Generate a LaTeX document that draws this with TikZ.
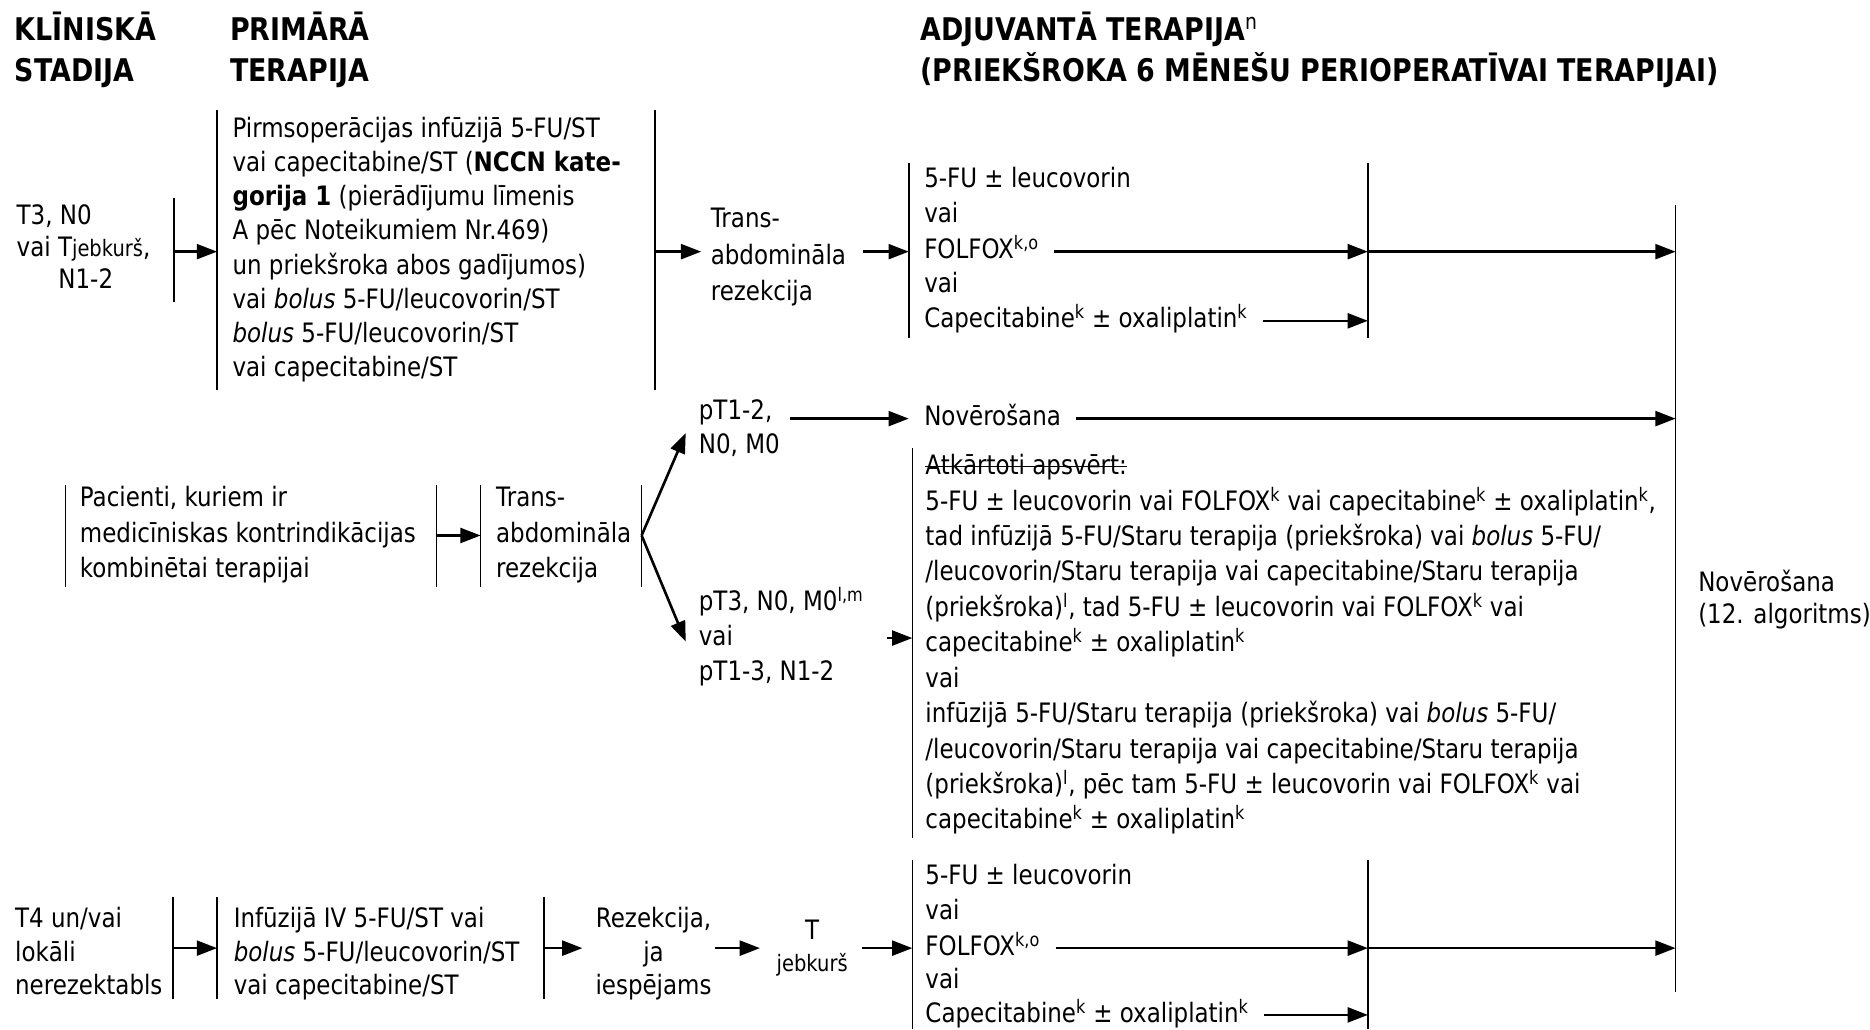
\documentclass[tikz,border=0pt]{standalone}
\usepackage{fontspec}
\setmainfont{DejaVu Sans}[FakeStretch=0.86]
\usetikzlibrary{arrows.meta}

\newcommand{\bodyfont}{\fontsize{22.4}{27}\selectfont}
\newcommand{\mlt}[2]{{\fontsize{22.4}{#1}\selectfont\begin{tabular}[t]{@{}l@{}}#2\end{tabular}}}
\newcommand{\mlc}[2]{{\fontsize{22.4}{#1}\selectfont\begin{tabular}[t]{@{}c@{}}#2\end{tabular}}}
\newcommand{\hd}[1]{{\fontsize{26.2}{34}\selectfont\bfseries\begin{tabular}[t]{@{}l@{}}#1\end{tabular}}}
\newcommand{\smjb}{{\fontsize{19}{19}\selectfont jebkurš}}

\begin{document}
\begin{tikzpicture}[x=1pt,y=-1pt,
  txt/.style={inner sep=0pt, outer sep=0pt, anchor=base west, font=\bodyfont},
  vbar/.style={minimum width=0pt, inner sep=0pt, outer sep=0pt, shape=rectangle},
  barline/.style={line width=1.3pt},
  arr/.style={line width=2.2pt, -{Triangle[length=17pt,width=12.5pt]}}]
\fill[white] (0,0) rectangle (1568,863);
\useasboundingbox (0,0) rectangle (1568,863);

% ---------- headers ----------
\node[txt] (h1) at (12.5,34) {\hd{KLĪNISKĀ\\STADIJA}};
\node[txt] (h2) at (193,34) {\hd{PRIMĀRĀ\\TERAPIJA}};
\node[txt] (h3) at (772,34) {\hd{ADJUVANTĀ TERAPIJA\textsuperscript{\mdseries n}\\(PRIEKŠROKA 6 MĒNEŠU PERIOPERATĪVAI TERAPIJAI)}};

% ---------- vertical bars ----------
\node[vbar, minimum height=87pt]  (b1) at (146,209.5) {};
\node[vbar, minimum height=235pt] (b2) at (182,209.5) {};
\node[vbar, minimum height=235pt] (b3) at (549,209.5) {};
\node[vbar, minimum height=146pt] (a1) at (762,210) {};
\node[vbar, minimum height=146pt] (e1) at (1147,210) {};
\node[vbar, minimum height=660pt] (R)  at (1405,502) {};
\node[vbar, minimum height=85pt]  (m1) at (55,449.5) {};
\node[vbar, minimum height=85pt]  (m2) at (366,449.5) {};
\node[vbar, minimum height=85pt]  (m3) at (403,449.5) {};
\node[vbar, minimum height=85pt]  (m4) at (538,449.5) {};
\node[vbar, minimum height=327pt] (bb) at (765,539.5) {};
\node[vbar, minimum height=86pt]  (c1) at (145,795) {};
\node[vbar, minimum height=86pt]  (c2) at (182,795) {};
\node[vbar, minimum height=86pt]  (c3) at (456,795) {};
\node[vbar, minimum height=142pt] (c4) at (765,792) {};
\node[vbar, minimum height=142pt] (c5) at (1147,792) {};
\foreach \n in {b1,b2,b3,a1,e1,R,m1,m2,m3,m4,bb,c1,c2,c3,c4,c5}
  \draw[barline] (\n.north) -- (\n.south);

% ---------- row 1 ----------
\node[txt] (s1) at (14,188) {\mlt{27}{T3, N0\\vai T\smjb,\\\hspace*{35pt}N1-2}};
\node[txt] (p1) at (195,115) {\mlt{28.7}{Pirmsoperācijas infūzijā 5-FU/ST\\vai capecitabine/ST (\textbf{NCCN kate-}\\\textbf{gorija 1} (pierādījumu līmenis\\A pēc Noteikumiem Nr.469)\\un priekšroka abos gadījumos)\\vai \textit{bolus} 5-FU/leucovorin/ST\\\textit{bolus} 5-FU/leucovorin/ST\\vai capecitabine/ST}};
\node[txt] (tr1) at (596,191) {\mlt{30.5}{Trans-\\abdomināla\\rezekcija}};
\node[txt] (a1l1) at (775,157) {5-FU ± leucovorin};
\node[txt] (a1l2) at (775,186.5) {vai};
\node[txt] (fx1) at (775,217) {FOLFOX\textsuperscript{k,o}};
\node[txt] (a1l4) at (775,245.5) {vai};
\node[txt] (cp1) at (775,275) {Capecitabine\textsuperscript{k} ± oxaliplatin\textsuperscript{k}};
\node[txt] (nov) at (1424,496) {\mlt{27}{Novērošana\\(12. algoritms)}};

\coordinate (y1) at (0,211);
\coordinate (y1c) at (0,269);
\draw[arr] (b1 |- y1) -- (b2 |- y1);
\draw[arr] (b3 |- y1) -- ([xshift=-8pt]tr1.west |- y1);
\draw[arr] ([xshift=14pt]tr1.east |- y1) -- (a1 |- y1);
\draw[arr] ([xshift=13pt]fx1.east |- y1) -- (e1 |- y1);
\draw[arr] ([xshift=13pt]cp1.east |- y1c) -- (e1 |- y1c);
\draw[arr] (e1 |- y1) -- (R |- y1);

% ---------- row 2 ----------
\node[txt] (n12) at (586,352) {\mlt{28}{pT1-2,\\N0, M0}};
\node[txt] (nov2) at (775,357) {Novērošana};
\node[txt] (pac) at (67,425) {\mlt{29.5}{Pacienti, kuriem ir\\medicīniskas kontrindikācijas\\kombinētai terapijai}};
\node[txt] (tr2) at (416,425) {\mlt{29.5}{Trans-\\abdomināla\\rezekcija}};
\node[txt] (n3) at (586,512) {\mlt{29.5}{pT3, N0, M0\textsuperscript{l,m}\\vai\\pT1-3, N1-2}};
\node[txt] (atk) at (776,398) {Atkārtoti apsvērt:};
\coordinate (ys) at (0,391.5);
\draw[line width=0.9pt] (atk.west |- ys) -- (atk.east |- ys);
\node[txt] (big) at (776,427.7) {\mlt{29.7}{5-FU ± leucovorin vai FOLFOX\textsuperscript{k} vai capecitabine\textsuperscript{k} ± oxaliplatin\textsuperscript{k},\\tad infūzijā 5-FU/Staru terapija (priekšroka) vai \textit{bolus} 5-FU/\\/leucovorin/Staru terapija vai capecitabine/Staru terapija\\(priekšroka)\textsuperscript{l}, tad 5-FU ± leucovorin vai FOLFOX\textsuperscript{k} vai\\capecitabine\textsuperscript{k} ± oxaliplatin\textsuperscript{k}\\vai\\infūzijā 5-FU/Staru terapija (priekšroka) vai \textit{bolus} 5-FU/\\/leucovorin/Staru terapija vai capecitabine/Staru terapija\\(priekšroka)\textsuperscript{l}, pēc tam 5-FU ± leucovorin vai FOLFOX\textsuperscript{k} vai\\capecitabine\textsuperscript{k} ± oxaliplatin\textsuperscript{k}}};

\coordinate (y2n) at (0,351);
\coordinate (y2m) at (0,449);
\coordinate (y2p) at (0,535);
\coordinate (d1) at (575,363);
\coordinate (d2) at (575,538);
\draw[arr] ([xshift=9pt]n12.east |- y2n) -- ([xshift=-13pt]nov2.west |- y2n);
\draw[arr] ([xshift=13pt]nov2.east |- y2n) -- (R |- y2n);
\draw[arr] (m2 |- y2m) -- (m3 |- y2m);
\draw[arr] (m4 |- y2m) -- (d1);
\draw[arr] (m4 |- y2m) -- (d2);
\draw[arr] ([xshift=20pt]n3.east |- y2p) -- (bb |- y2p);

% ---------- row 3 ----------
\node[txt] (t4) at (12.7,778) {\mlt{28}{T4 un/vai\\lokāli\\nerezektabls}};
\node[txt] (inf) at (196,778) {\mlt{28}{Infūzijā IV 5-FU/ST vai\\\textit{bolus} 5-FU/leucovorin/ST\\vai capecitabine/ST}};
\node[txt, anchor=base] (rez) at (548,778) {\mlc{28}{Rezekcija,\\ja\\iespējams}};
\node[txt, anchor=base] (tj) at (681,788) {\mlc{27}{T\\\smjb}};
\node[txt] (a3l1) at (776,742) {5-FU ± leucovorin};
\node[txt] (a3l2) at (776,771) {vai};
\node[txt] (fx3) at (776,801) {FOLFOX\textsuperscript{k,o}};
\node[txt] (a3l4) at (776,829) {vai};
\node[txt] (cp3) at (776,857) {Capecitabine\textsuperscript{k} ± oxaliplatin\textsuperscript{k}};

\coordinate (y3) at (0,795);
\coordinate (y3c) at (0,851);
\draw[arr] (c1 |- y3) -- (c2 |- y3);
\draw[arr] (c3 |- y3) -- ([xshift=-11pt]rez.west |- y3);
\draw[arr] ([xshift=3pt]rez.east |- y3) -- ([xshift=-14pt]tj.west |- y3);
\draw[arr] ([xshift=12pt]tj.east |- y3) -- (c4 |- y3);
\draw[arr] ([xshift=13pt]fx3.east |- y3) -- (c5 |- y3);
\draw[arr] ([xshift=13pt]cp3.east |- y3c) -- (c5 |- y3c);
\draw[arr] (c5 |- y3) -- (R |- y3);
\end{tikzpicture}
\end{document}
